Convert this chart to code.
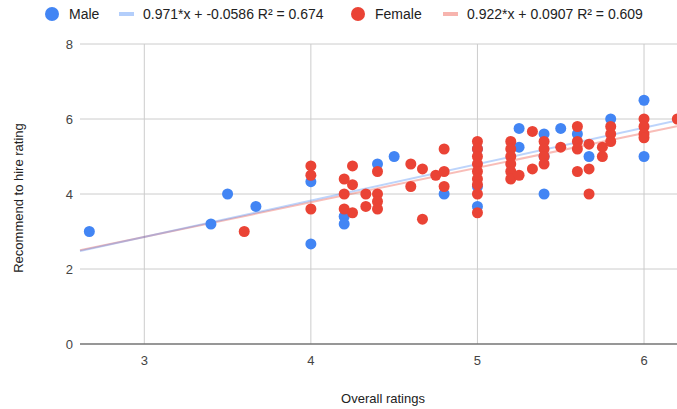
<!DOCTYPE html>
<html>
<head>
<meta charset="utf-8">
<script src="https://cdn.jsdelivr.net/npm/d3@7"></script>
<style>
  body { margin: 0; background: #fff; }
  text { font-family: Arial, "Liberation Sans", sans-serif; }
</style>
</head>
<body>
<div id="chart"></div>
<script>
// Male ratings: [overall, recommend]
const maleData = [
  [2.67, 3.0], [3.4, 3.2], [3.5, 4.0], [3.67, 3.67],
  [4.0, 2.67], [4.0, 4.33], [4.2, 3.4], [4.2, 3.2],
  [4.4, 4.8], [4.5, 5.0], [4.8, 4.0],
  [5.0, 5.2], [5.0, 4.2], [5.0, 3.67],
  [5.25, 5.75], [5.25, 5.25],
  [5.4, 5.6], [5.4, 5.0], [5.4, 4.0],
  [5.5, 5.75], [5.6, 5.6], [5.67, 5.0],
  [5.8, 6.0], [6.0, 6.5], [6.0, 5.0]
]

// Female ratings: [overall, recommend]
const femaleData = [
  [3.6, 3.0],
  [4.0, 4.75], [4.0, 4.5], [4.0, 3.6],
  [4.2, 4.4], [4.2, 4.0], [4.2, 3.6],
  [4.25, 4.75], [4.25, 4.25], [4.25, 3.5],
  [4.33, 4.0], [4.33, 3.67],
  [4.4, 4.6], [4.4, 4.0], [4.4, 3.8], [4.4, 3.6],
  [4.6, 4.8], [4.6, 4.2],
  [4.67, 4.67], [4.67, 3.33],
  [4.75, 4.5],
  [4.8, 5.2], [4.8, 4.6], [4.8, 4.2],
  [5.0, 5.4], [5.0, 5.2], [5.0, 5.0], [5.0, 4.8], [5.0, 4.6],
  [5.0, 4.4], [5.0, 4.25], [5.0, 4.0], [5.0, 3.5],
  [5.2, 5.4], [5.2, 5.2], [5.2, 5.0], [5.2, 4.8], [5.2, 4.6], [5.2, 4.4],
  [5.25, 4.5],
  [5.33, 5.67], [5.33, 4.67],
  [5.4, 5.4], [5.4, 5.2], [5.4, 5.0], [5.4, 4.8],
  [5.5, 5.25],
  [5.6, 5.8], [5.6, 5.4], [5.6, 5.2], [5.6, 4.6],
  [5.67, 5.33], [5.67, 4.67], [5.67, 4.0],
  [5.75, 5.25], [5.75, 5.0],
  [5.8, 5.8], [5.8, 5.6], [5.8, 5.4],
  [6.0, 6.0], [6.0, 5.8], [6.0, 5.6], [6.0, 5.5],
  [6.2, 6.0]
]

// trendline coefficients [slope, intercept]
const maleTrend = [0.971, -0.0586]
const femaleTrend = [0.922, 0.0907]

const legendLabels = ['Male', '0.971*x + -0.0586 R² = 0.674', 'Female', '0.922*x + 0.0907 R² = 0.609']
const xTicks = [3, 4, 5, 6]
const yTicks = [0, 2, 4, 6, 8]

const width = 677
const height = 409
const margin = { top: 44, left: 80, right: 0, bottom: 65 }

const blue = '#4285f4'
const red = '#ea4335'

const svg = d3
  .select('#chart')
  .append('svg')
  .attr('width', width)
  .attr('height', height)

const xScale = d3
  .scaleLinear()
  .domain([2.614, 6.198])
  .range([margin.left, width - margin.right])

const yScale = d3
  .scaleLinear()
  .domain([0, 8])
  .range([height - margin.bottom, margin.top])

// gridlines
svg
  .selectAll('.y-grid')
  .data(yTicks.filter(d => d !== 0))
  .enter()
  .append('line')
  .attr('x1', margin.left)
  .attr('x2', width - margin.right)
  .attr('y1', d => yScale(d))
  .attr('y2', d => yScale(d))
  .attr('stroke', '#cccccc')
  .attr('stroke-width', 1)

svg
  .selectAll('.x-grid')
  .data(xTicks)
  .enter()
  .append('line')
  .attr('x1', d => xScale(d))
  .attr('x2', d => xScale(d))
  .attr('y1', margin.top)
  .attr('y2', yScale(0))
  .attr('stroke', '#cccccc')
  .attr('stroke-width', 1)

// baseline
svg
  .append('line')
  .attr('x1', margin.left)
  .attr('x2', width - margin.right)
  .attr('y1', yScale(0))
  .attr('y2', yScale(0))
  .attr('stroke', '#757575')
  .attr('stroke-width', 1.5)

// tick labels
svg
  .selectAll('.y-label')
  .data(yTicks)
  .enter()
  .append('text')
  .attr('x', margin.left - 7)
  .attr('y', d => yScale(d))
  .attr('dy', '0.35em')
  .attr('text-anchor', 'end')
  .attr('font-size', 13)
  .attr('fill', '#444')
  .text(d => d)

svg
  .selectAll('.x-label')
  .data(xTicks)
  .enter()
  .append('text')
  .attr('x', d => xScale(d))
  .attr('y', yScale(0) + 16)
  .attr('dy', '0.35em')
  .attr('text-anchor', 'middle')
  .attr('font-size', 13)
  .attr('fill', '#444')
  .text(d => d)

// axis titles
svg
  .append('text')
  .attr('x', 383)
  .attr('y', 398)
  .attr('dy', '0.35em')
  .attr('text-anchor', 'middle')
  .attr('font-size', 13)
  .attr('fill', '#222')
  .text('Overall ratings')

svg
  .append('text')
  .attr('transform', 'translate(18,198) rotate(-90)')
  .attr('dy', '0.35em')
  .attr('text-anchor', 'middle')
  .attr('font-size', 13)
  .attr('fill', '#222')
  .text('Recommend to hire rating')

// trendlines
const xDomain = xScale.domain()
const trendLine = d3
  .line()
  .x(d => xScale(d[0]))
  .y(d => yScale(d[1]))

function trendPoints(coef) {
  return xDomain.map(x => [x, coef[0] * x + coef[1]])
}

svg
  .append('path')
  .datum(trendPoints(femaleTrend))
  .attr('d', trendLine)
  .attr('fill', 'none')
  .attr('stroke', red)
  .attr('stroke-opacity', 0.35)
  .attr('stroke-width', 2)

svg
  .append('path')
  .datum(trendPoints(maleTrend))
  .attr('d', trendLine)
  .attr('fill', 'none')
  .attr('stroke', blue)
  .attr('stroke-opacity', 0.35)
  .attr('stroke-width', 2)

// points
svg
  .selectAll('.male')
  .data(maleData)
  .enter()
  .append('circle')
  .attr('class', 'male')
  .attr('cx', d => xScale(d[0]))
  .attr('cy', d => yScale(d[1]))
  .attr('r', 5.5)
  .attr('fill', blue)

svg
  .selectAll('.female')
  .data(femaleData)
  .enter()
  .append('circle')
  .attr('class', 'female')
  .attr('cx', d => xScale(d[0]))
  .attr('cy', d => yScale(d[1]))
  .attr('r', 5.5)
  .attr('fill', red)

// legend
const legend = svg.append('g').attr('transform', 'translate(0,14)')

const legendItems = [
  { type: 'dot', color: blue, x: 52, label: legendLabels[0], tx: 69 },
  { type: 'line', color: blue, x: 119, label: legendLabels[1], tx: 143 },
  { type: 'dot', color: red, x: 358, label: legendLabels[2], tx: 375 },
  { type: 'line', color: red, x: 443, label: legendLabels[3], tx: 467 }
]

legendItems.forEach(item => {
  if (item.type === 'dot') {
    legend
      .append('circle')
      .attr('cx', item.x)
      .attr('cy', 0)
      .attr('r', 7)
      .attr('fill', item.color)
  } else {
    legend
      .append('line')
      .attr('x1', item.x)
      .attr('x2', item.x + 15)
      .attr('y1', 0)
      .attr('y2', 0)
      .attr('stroke', item.color)
      .attr('stroke-opacity', 0.4)
      .attr('stroke-width', 4)
  }
  legend
    .append('text')
    .attr('x', item.tx)
    .attr('y', 0)
    .attr('dy', '0.35em')
    .attr('font-size', 14)
    .attr('fill', '#222')
    .text(item.label)
})
</script>
</body>
</html>
